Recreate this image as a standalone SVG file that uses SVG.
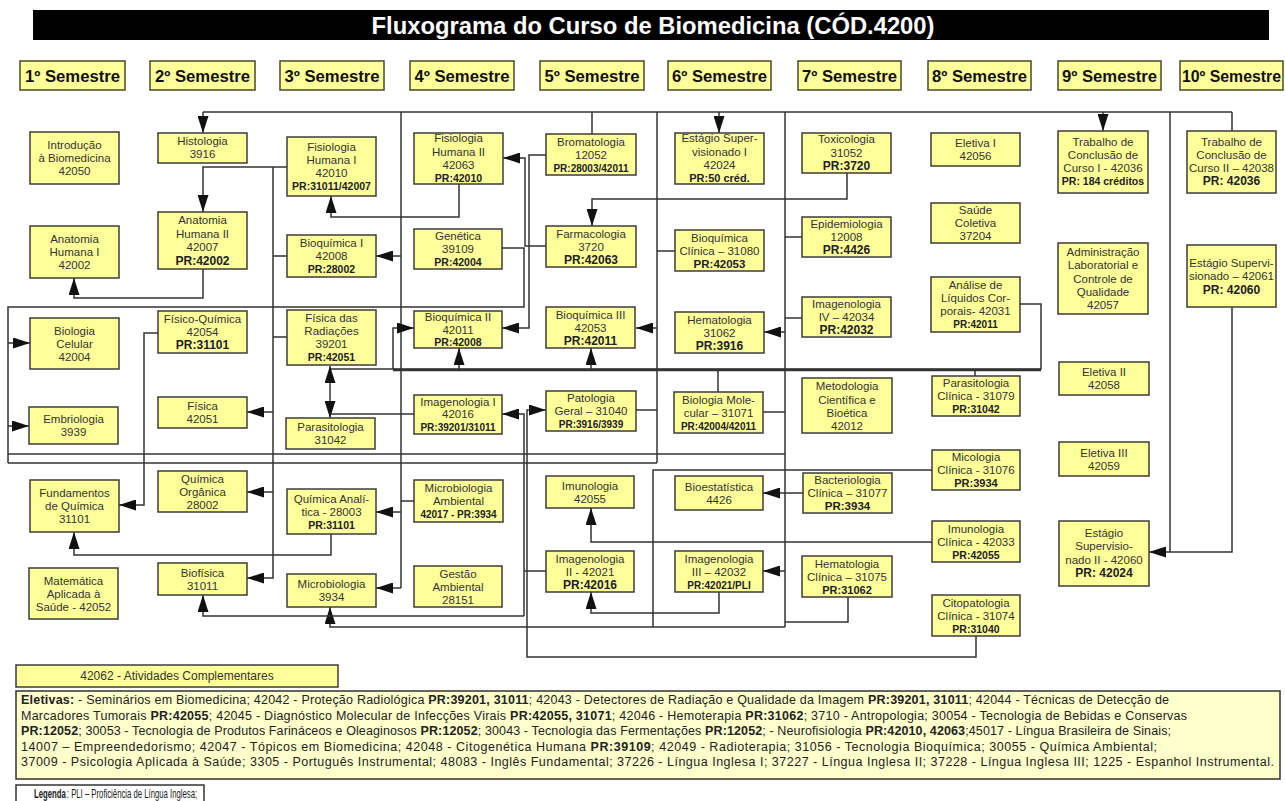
<svg xmlns="http://www.w3.org/2000/svg" width="1285" height="801" viewBox="0 0 1285 801">
<defs>
<style>
.box{fill:#ffff99;stroke:#3c3c3c;stroke-width:1.5}
.hdr{fill:#ffff99;stroke:#4a4a2a;stroke-width:1.5}
.t{font-family:"Liberation Sans",Arial,sans-serif;font-size:11.5px;fill:#333;text-anchor:middle}
.pr{font-weight:bold;font-size:12px;fill:#222}
.ps{font-weight:bold;font-size:10.5px;fill:#222}
.hd{font-family:"Liberation Sans",Arial,sans-serif;font-size:16px;font-weight:bold;fill:#111;text-anchor:middle}
.c{fill:none;stroke:#333;stroke-width:1.5}
.a{marker-end:url(#ah)}
.el{font-family:"Liberation Sans",Arial,sans-serif;font-size:12.5px;fill:#222}
.b{font-weight:bold}
</style>
<marker id="ah" markerUnits="userSpaceOnUse" markerWidth="17" markerHeight="11" refX="17" refY="5.5" orient="auto">
<path d="M0,0 L17,5.5 L0,11 z" fill="#111"/>
</marker>
</defs>
<rect width="1285" height="801" fill="#ffffff"/>

<g id="title">
<rect x="33" y="10" width="1236" height="30" fill="#000"/>
<text x="653" y="33.5" font-family="'Liberation Sans',Arial,sans-serif" font-size="23" font-weight="bold" fill="#fff" text-anchor="middle" textLength="563" lengthAdjust="spacingAndGlyphs">Fluxograma do Curso de Biomedicina (CÓD.4200)</text>
</g>

<g id="headers">
<rect class="hdr" x="20" y="61" width="105" height="29"/><text class="hd" x="72.5" y="81.5" textLength="95" lengthAdjust="spacingAndGlyphs">1º Semestre</text>
<rect class="hdr" x="150" y="61" width="105" height="29"/><text class="hd" x="202.5" y="81.5" textLength="95" lengthAdjust="spacingAndGlyphs">2º Semestre</text>
<rect class="hdr" x="280" y="61" width="104" height="29"/><text class="hd" x="332" y="81.5" textLength="95" lengthAdjust="spacingAndGlyphs">3º Semestre</text>
<rect class="hdr" x="410" y="61" width="104" height="29"/><text class="hd" x="462" y="81.5" textLength="95" lengthAdjust="spacingAndGlyphs">4º Semestre</text>
<rect class="hdr" x="540" y="61" width="104" height="29"/><text class="hd" x="592" y="81.5" textLength="95" lengthAdjust="spacingAndGlyphs">5º Semestre</text>
<rect class="hdr" x="668" y="61" width="103" height="29"/><text class="hd" x="719.5" y="81.5" textLength="95" lengthAdjust="spacingAndGlyphs">6º Semestre</text>
<rect class="hdr" x="798" y="61" width="103" height="29"/><text class="hd" x="849.5" y="81.5" textLength="95" lengthAdjust="spacingAndGlyphs">7º Semestre</text>
<rect class="hdr" x="928" y="61" width="103" height="29"/><text class="hd" x="979.5" y="81.5" textLength="95" lengthAdjust="spacingAndGlyphs">8º Semestre</text>
<rect class="hdr" x="1058" y="61" width="103" height="29"/><text class="hd" x="1109.5" y="81.5" textLength="95" lengthAdjust="spacingAndGlyphs">9º Semestre</text>
<rect class="hdr" x="1180" y="61" width="103" height="29"/><text class="hd" x="1231.5" y="81.5" textLength="99" lengthAdjust="spacingAndGlyphs">10º Semestre</text>
</g>

<g id="connectors">
<path class="c" d="M203,112 H1232"/>
<path class="c a" d="M203,112 V133"/>
<path class="c" d="M592,112 V134"/>
<path class="c a" d="M719,112 V133"/>
<path class="c a" d="M1103,112 V131"/>
<path class="c" d="M1232,112 V131"/>
<path class="c" d="M1170,112 V552"/>
<path class="c a" d="M1232,307 V552 H1149"/>
<path class="c" d="M401,112 V588"/>
<path class="c a" d="M401,256 H376"/>
<path class="c a" d="M401,512 H376"/>
<path class="c a" d="M401,588 H376"/>
<path class="c" d="M401,501 H414"/>
<path class="c" d="M657,112 V463"/>
<path class="c" d="M657,251 H675"/>
<path class="c a" d="M657,328 H636"/>
<path class="c" d="M636,410 H657"/>
<path class="c" d="M785,112 V627"/>
<path class="c" d="M785,237 H802"/>
<path class="c" d="M785,318 H802"/>
<path class="c a" d="M785,332 H764"/>
<path class="c" d="M763,412 H785"/>
<path class="c a" d="M785,493 H763"/>
<path class="c" d="M785,493 H803"/>
<path class="c a" d="M785,571 H763"/>
<path class="c" d="M848,597 V622 H785"/>
<path class="c a" d="M785,627 H330 V607"/>
<path class="c" d="M932,470 H653 V627"/>
<path class="c a" d="M932,542 H591 V508"/>
<path class="c a" d="M719,592 V613 H591 V592"/>
<path class="c" d="M546,571 H524"/>
<path class="c a" d="M524,616 V414 H502"/>
<path class="c a" d="M524,616 H203 V595"/>
<path class="c a" d="M976,636 V657 H527 V410 H546"/>
<path class="c a" d="M287,167 H203 V212"/>
<path class="c a" d="M273,167 V578 H247"/>
<path class="c" d="M273,256 H287"/>
<path class="c" d="M273,337 H287"/>
<path class="c a" d="M273,412 H247"/>
<path class="c a" d="M273,492 H247"/>
<path class="c a" d="M203,269 V298 H74 V278"/>
<path class="c" d="M502,248 H524 V307 H8 V463"/>
<path class="c a" d="M8,343 H30"/>
<path class="c a" d="M8,426 H29"/>
<path class="c" d="M8,454 H785"/>
<path class="c" d="M8,463 H657"/>
<path class="c a" d="M459,184 V217 H331 V196"/>
<path class="c a" d="M546,246 H525 V158 H503"/>
<path class="c a" d="M546,155 H529 V328 H502"/>
<path class="c a" d="M847,173 V199 H592 V226"/>
<path class="c" d="M330,369 H1041 V304 H1020"/>
<path class="c" style="stroke-width:2.5" d="M393,370 H1041"/>
<path class="c a" d="M330,391 V366"/>
<path class="c a" d="M330,391 V418"/>
<path class="c" d="M330,414 H414"/>
<path class="c a" d="M393,369 V328 H414"/>
<path class="c a" d="M459,369 V348"/>
<path class="c a" d="M591,369 V348"/>
<path class="c" d="M718,369 V392"/>
<path class="c" d="M975,369 V376"/>
<path class="c a" d="M331,534 V555 H74 V532"/>
<path class="c a" d="M158,333 H144 V505 H119"/>
</g>

<g id="n_intro"><rect class="box" x="30" y="132" width="89" height="52"/><text class="t"><tspan x="74.5" y="149">Introdução</tspan><tspan x="74.5" y="162">à Biomedicina</tspan><tspan x="74.5" y="175">42050</tspan></text></g>
<g id="n_anat1"><rect class="box" x="30" y="226" width="89" height="52"/><text class="t"><tspan x="74.5" y="243">Anatomia</tspan><tspan x="74.5" y="256">Humana I</tspan><tspan x="74.5" y="269">42002</tspan></text></g>
<g id="n_biocel"><rect class="box" x="30" y="318" width="89" height="51"/><text class="t"><tspan x="74.5" y="334.5">Biologia</tspan><tspan x="74.5" y="347.5">Celular</tspan><tspan x="74.5" y="360.5">42004</tspan></text></g>
<g id="n_embrio"><rect class="box" x="29" y="407" width="89" height="37"/><text class="t"><tspan x="73.5" y="423">Embriologia</tspan><tspan x="73.5" y="436">3939</tspan></text></g>
<g id="n_fundq"><rect class="box" x="30" y="480" width="89" height="52"/><text class="t"><tspan x="74.5" y="497">Fundamentos</tspan><tspan x="74.5" y="510">de Química</tspan><tspan x="74.5" y="523">31101</tspan></text></g>
<g id="n_mat"><rect class="box" x="29" y="568" width="89" height="51"/><text class="t"><tspan x="73.5" y="584.5">Matemática</tspan><tspan x="73.5" y="597.5">Aplicada à</tspan><tspan x="73.5" y="610.5">Saúde - 42052</tspan></text></g>

<g id="n_histo"><rect class="box" x="158" y="133" width="89" height="30"/><text class="t"><tspan x="202.5" y="145">Histologia</tspan><tspan x="202.5" y="158">3916</tspan></text></g>
<g id="n_anat2"><rect class="box" x="158" y="212" width="89" height="57"/><text class="t"><tspan x="202.5" y="224">Anatomia</tspan><tspan x="202.5" y="237.5">Humana II</tspan><tspan x="202.5" y="251">42007</tspan><tspan class="pr" x="202.5" y="265">PR:42002</tspan></text></g>
<g id="n_fisqui"><rect class="box" x="158" y="311" width="89" height="42"/><text class="t"><tspan x="202.5" y="323">Físico-Química</tspan><tspan x="202.5" y="336">42054</tspan><tspan class="pr" x="202.5" y="349">PR:31101</tspan></text></g>
<g id="n_fisica"><rect class="box" x="158" y="397" width="89" height="31"/><text class="t"><tspan x="202.5" y="410">Física</tspan><tspan x="202.5" y="423">42051</tspan></text></g>
<g id="n_qorg"><rect class="box" x="158" y="471" width="89" height="41"/><text class="t"><tspan x="202.5" y="482.5">Química</tspan><tspan x="202.5" y="495.5">Orgânica</tspan><tspan x="202.5" y="508.5">28002</tspan></text></g>
<g id="n_biofis"><rect class="box" x="158" y="563" width="89" height="32"/><text class="t"><tspan x="202.5" y="576.5">Biofísica</tspan><tspan x="202.5" y="589.5">31011</tspan></text></g>

<g id="n_fisio1"><rect class="box" x="287" y="137" width="89" height="59"/><text class="t"><tspan x="331.5" y="151">Fisiologia</tspan><tspan x="331.5" y="164">Humana I</tspan><tspan x="331.5" y="177">42010</tspan><tspan class="ps" x="331.5" y="190">PR:31011/42007</tspan></text></g>
<g id="n_bioq1"><rect class="box" x="287" y="235" width="89" height="42"/><text class="t"><tspan x="331.5" y="247">Bioquímica I</tspan><tspan x="331.5" y="260">42008</tspan><tspan class="ps" x="331.5" y="273">PR:28002</tspan></text></g>
<g id="n_fisrad"><rect class="box" x="287" y="310" width="89" height="55"/><text class="t"><tspan x="331.5" y="322">Física das</tspan><tspan x="331.5" y="335">Radiações</tspan><tspan x="331.5" y="348">39201</tspan><tspan class="ps" x="331.5" y="361">PR:42051</tspan></text></g>
<g id="n_parasit"><rect class="box" x="286" y="418" width="89" height="31"/><text class="t"><tspan x="330.5" y="431">Parasitologia</tspan><tspan x="330.5" y="444">31042</tspan></text></g>
<g id="n_qanal"><rect class="box" x="287" y="489" width="89" height="45"/><text class="t"><tspan x="331.5" y="502.5">Química Analí-</tspan><tspan x="331.5" y="515.5">tica - 28003</tspan><tspan class="ps" x="331.5" y="528.5">PR:31101</tspan></text></g>
<g id="n_micro"><rect class="box" x="287" y="574" width="89" height="33"/><text class="t"><tspan x="331.5" y="588">Microbiologia</tspan><tspan x="331.5" y="601">3934</tspan></text></g>

<g id="n_fisio2"><rect class="box" x="414" y="133" width="89" height="51"/><text class="t"><tspan x="458.5" y="142">Fisiologia</tspan><tspan x="458.5" y="155.5">Humana II</tspan><tspan x="458.5" y="168.5">42063</tspan><tspan class="ps" x="458.5" y="182">PR:42010</tspan></text></g>
<g id="n_genet"><rect class="box" x="414" y="229" width="88" height="40"/><text class="t"><tspan x="458" y="240">Genética</tspan><tspan x="458" y="253">39109</tspan><tspan class="ps" x="458" y="266">PR:42004</tspan></text></g>
<g id="n_bioq2"><rect class="box" x="414" y="311" width="88" height="37"/><text class="t"><tspan x="458" y="321">Bioquímica II</tspan><tspan x="458" y="333.5">42011</tspan><tspan class="ps" x="458" y="346">PR:42008</tspan></text></g>
<g id="n_imag1"><rect class="box" x="414" y="395" width="88" height="39"/><text class="t"><tspan x="458" y="405.5">Imagenologia I</tspan><tspan x="458" y="418">42016</tspan><tspan class="ps" style="font-size:10px" x="458" y="431">PR:39201/31011</tspan></text></g>
<g id="n_microamb"><rect class="box" x="414" y="480" width="89" height="42"/><text class="t"><tspan x="458.5" y="492">Microbiologia</tspan><tspan x="458.5" y="505">Ambiental</tspan><tspan class="ps" style="font-size:10px" x="458.5" y="518">42017 - PR:3934</tspan></text></g>
<g id="n_gestao"><rect class="box" x="414" y="566" width="88" height="41"/><text class="t"><tspan x="458" y="577.5">Gestão</tspan><tspan x="458" y="590.5">Ambiental</tspan><tspan x="458" y="603.5">28151</tspan></text></g>

<g id="n_broma"><rect class="box" x="546" y="134" width="90" height="41"/><text class="t"><tspan x="591" y="145.5">Bromatologia</tspan><tspan x="591" y="158.5">12052</tspan><tspan class="ps" style="font-size:10px" x="591" y="171.5">PR:28003/42011</tspan></text></g>
<g id="n_farma"><rect class="box" x="546" y="226" width="90" height="41"/><text class="t"><tspan x="591" y="237.5">Farmacologia</tspan><tspan x="591" y="250.5">3720</tspan><tspan class="pr" x="591" y="263.5">PR:42063</tspan></text></g>
<g id="n_bioq3"><rect class="box" x="546" y="307" width="89" height="41"/><text class="t"><tspan x="590.5" y="318.5">Bioquímica III</tspan><tspan x="590.5" y="331.5">42053</tspan><tspan class="pr" x="590.5" y="344.5">PR:42011</tspan></text></g>
<g id="n_pato"><rect class="box" x="546" y="391" width="90" height="40"/><text class="t"><tspan x="591" y="402">Patologia</tspan><tspan x="591" y="415">Geral – 31040</tspan><tspan class="ps" style="font-size:10px" x="591" y="428">PR:3916/3939</tspan></text></g>
<g id="n_imuno"><rect class="box" x="546" y="476" width="88" height="32"/><text class="t"><tspan x="590" y="489.5">Imunologia</tspan><tspan x="590" y="502.5">42055</tspan></text></g>
<g id="n_imag2"><rect class="box" x="546" y="551" width="88" height="41"/><text class="t"><tspan x="590" y="562.5">Imagenologia</tspan><tspan x="590" y="575.5">II - 42021</tspan><tspan class="pr" x="590" y="588.5">PR:42016</tspan></text></g>

<g id="n_est1"><rect class="box" x="675" y="133" width="89" height="51"/><text class="t"><tspan x="719.5" y="142">Estágio Super-</tspan><tspan x="719.5" y="155.5">visionado I</tspan><tspan x="719.5" y="168.5">42024</tspan><tspan class="ps" style="font-size:11px" x="719.5" y="182">PR:50 créd.</tspan></text></g>
<g id="n_bioqcli"><rect class="box" x="675" y="230" width="89" height="41"/><text class="t"><tspan x="719.5" y="241.5">Bioquímica</tspan><tspan x="719.5" y="254.5">Clínica – 31080</tspan><tspan class="pr" style="font-size:11.5px" x="719.5" y="267.5">PR:42053</tspan></text></g>
<g id="n_hemato"><rect class="box" x="675" y="312" width="89" height="41"/><text class="t"><tspan x="719.5" y="323.5">Hematologia</tspan><tspan x="719.5" y="336.5">31062</tspan><tspan class="pr" x="719.5" y="349.5">PR:3916</tspan></text></g>
<g id="n_biomol"><rect class="box" x="674" y="392" width="89" height="41"/><text class="t"><tspan x="718.5" y="403.5">Biologia Mole-</tspan><tspan x="718.5" y="416.5">cular – 31071</tspan><tspan class="ps" style="font-size:10px" x="718.5" y="429.5">PR:42004/42011</tspan></text></g>
<g id="n_bioest"><rect class="box" x="675" y="476" width="88" height="34"/><text class="t"><tspan x="719" y="490.5">Bioestatística</tspan><tspan x="719" y="503.5">4426</tspan></text></g>
<g id="n_imag3"><rect class="box" x="675" y="551" width="88" height="41"/><text class="t"><tspan x="719" y="562.5">Imagenologia</tspan><tspan x="719" y="575.5">III – 42032</tspan><tspan class="ps" style="font-size:10px" x="719" y="588.5">PR:42021/PLI</tspan></text></g>

<g id="n_toxi"><rect class="box" x="802" y="133" width="89" height="40"/><text class="t"><tspan x="846.5" y="143">Toxicologia</tspan><tspan x="846.5" y="156.5">31052</tspan><tspan class="pr" x="846.5" y="170">PR:3720</tspan></text></g>
<g id="n_epid"><rect class="box" x="802" y="217" width="89" height="40"/><text class="t"><tspan x="846.5" y="228">Epidemiologia</tspan><tspan x="846.5" y="241">12008</tspan><tspan class="pr" x="846.5" y="254">PR:4426</tspan></text></g>
<g id="n_imag4"><rect class="box" x="802" y="297" width="89" height="40"/><text class="t"><tspan x="846.5" y="308">Imagenologia</tspan><tspan x="846.5" y="321">IV – 42034</tspan><tspan class="pr" x="846.5" y="334">PR:42032</tspan></text></g>
<g id="n_metod"><rect class="box" x="802" y="378" width="90" height="55"/><text class="t"><tspan x="847" y="390">Metodologia</tspan><tspan x="847" y="403.5">Científica e</tspan><tspan x="847" y="417">Bioética</tspan><tspan x="847" y="430">42012</tspan></text></g>
<g id="n_bacter"><rect class="box" x="803" y="473" width="89" height="40"/><text class="t"><tspan x="847.5" y="484">Bacteriologia</tspan><tspan x="847.5" y="497">Clínica – 31077</tspan><tspan class="pr" style="font-size:11.5px" x="847.5" y="510">PR:3934</tspan></text></g>
<g id="n_hemcli"><rect class="box" x="802" y="556" width="90" height="41"/><text class="t"><tspan x="847" y="567.5">Hematologia</tspan><tspan x="847" y="580.5">Clínica – 31075</tspan><tspan class="pr" style="font-size:11px" x="847" y="593.5">PR:31062</tspan></text></g>

<g id="n_elet1"><rect class="box" x="931" y="133" width="89" height="33"/><text class="t"><tspan x="975.5" y="147">Eletiva I</tspan><tspan x="975.5" y="160">42056</tspan></text></g>
<g id="n_saude"><rect class="box" x="931" y="203" width="89" height="40"/><text class="t"><tspan x="975.5" y="214">Saúde</tspan><tspan x="975.5" y="227">Coletiva</tspan><tspan x="975.5" y="240">37204</tspan></text></g>
<g id="n_analise"><rect class="box" x="931" y="277" width="89" height="55"/><text class="t"><tspan x="975.5" y="289">Análise de</tspan><tspan x="975.5" y="302">Líquidos Cor-</tspan><tspan x="975.5" y="315">porais- 42031</tspan><tspan class="ps" style="font-size:10px" x="975.5" y="328">PR:42011</tspan></text></g>
<g id="n_parcli"><rect class="box" x="932" y="376" width="88" height="40"/><text class="t"><tspan x="976" y="387">Parasitologia</tspan><tspan x="976" y="400">Clínica - 31079</tspan><tspan class="ps" x="976" y="413">PR:31042</tspan></text></g>
<g id="n_micocli"><rect class="box" x="932" y="450" width="88" height="40"/><text class="t"><tspan x="976" y="461">Micologia</tspan><tspan x="976" y="474">Clínica - 31076</tspan><tspan class="pr" style="font-size:11px" x="976" y="487">PR:3934</tspan></text></g>
<g id="n_imucli"><rect class="box" x="932" y="521" width="88" height="41"/><text class="t"><tspan x="976" y="532.5">Imunologia</tspan><tspan x="976" y="545.5">Clínica - 42033</tspan><tspan class="ps" x="976" y="558.5">PR:42055</tspan></text></g>
<g id="n_citocli"><rect class="box" x="932" y="595" width="88" height="41"/><text class="t"><tspan x="976" y="606.5">Citopatologia</tspan><tspan x="976" y="619.5">Clínica - 31074</tspan><tspan class="ps" x="976" y="632.5">PR:31040</tspan></text></g>

<g id="n_tcc1"><rect class="box" x="1058" y="131" width="90" height="62"/><text class="t"><tspan x="1103" y="145.5">Trabalho de</tspan><tspan x="1103" y="158.8">Conclusão de</tspan><tspan x="1103" y="172.1">Curso I - 42036</tspan><tspan class="ps" x="1103" y="185.4">PR: 184 créditos</tspan></text></g>
<g id="n_admin"><rect class="box" x="1058" y="243" width="90" height="71"/><text class="t"><tspan x="1103" y="255.5">Administração</tspan><tspan x="1103" y="269">Laboratorial e</tspan><tspan x="1103" y="282.5">Controle de</tspan><tspan x="1103" y="296">Qualidade</tspan><tspan x="1103" y="309">42057</tspan></text></g>
<g id="n_elet2"><rect class="box" x="1059" y="362" width="90" height="33"/><text class="t"><tspan x="1104" y="376">Eletiva II</tspan><tspan x="1104" y="389">42058</tspan></text></g>
<g id="n_elet3"><rect class="box" x="1059" y="442" width="90" height="34"/><text class="t"><tspan x="1104" y="456.5">Eletiva III</tspan><tspan x="1104" y="469.5">42059</tspan></text></g>
<g id="n_est2"><rect class="box" x="1059" y="521" width="90" height="65"/><text class="t"><tspan x="1104" y="536.5">Estágio</tspan><tspan x="1104" y="550">Supervisio-</tspan><tspan x="1104" y="563.5">nado II - 42060</tspan><tspan class="pr" x="1104" y="577">PR: 42024</tspan></text></g>

<g id="n_tcc2"><rect class="box" x="1187" y="131" width="89" height="62"/><text class="t"><tspan x="1231.5" y="145.5">Trabalho de</tspan><tspan x="1231.5" y="158.8">Conclusão de</tspan><tspan x="1231.5" y="172.1">Curso II – 42038</tspan><tspan class="pr" x="1231.5" y="185.4">PR: 42036</tspan></text></g>
<g id="n_est61"><rect class="box" x="1187" y="245" width="89" height="62"/><text class="t"><tspan x="1231.5" y="266.7">Estágio Supervi-</tspan><tspan x="1231.5" y="279.7">sionado – 42061</tspan><tspan class="pr" x="1231.5" y="294">PR: 42060</tspan></text></g>

<g id="n_ativ"><rect class="box" x="16" y="665" width="322" height="22"/><text class="t" style="font-size:12px" x="177" y="680">42062 - Atividades Complementares</text></g>

<g id="eletivas">
<rect x="16" y="691" width="1264" height="88" fill="#ffffcc" stroke="#333" stroke-width="1.5"/>
<text class="el" x="21" y="703.5" textLength="1148" lengthAdjust="spacing"><tspan class="b">Eletivas:</tspan> - Seminários em Biomedicina; 42042 - Proteção Radiológica <tspan class="b">PR:39201, 31011</tspan>; 42043 - Detectores de Radiação e Qualidade da Imagem <tspan class="b">PR:39201, 31011</tspan>; 42044 - Técnicas de Detecção de</text>
<text class="el" x="21" y="719.5" textLength="1166" lengthAdjust="spacing">Marcadores Tumorais <tspan class="b">PR:42055</tspan>; 42045 - Diagnóstico Molecular de Infecções Virais <tspan class="b">PR:42055, 31071</tspan>; 42046 - Hemoterapia <tspan class="b">PR:31062</tspan>;  3710 - Antropologia; 30054 - Tecnologia de Bebidas e Conservas</text>
<text class="el" x="21" y="735" textLength="1150" lengthAdjust="spacing"><tspan class="b">PR:12052</tspan>; 30053 - Tecnologia de Produtos Farináceos e Oleaginosos <tspan class="b">PR:12052</tspan>; 30043 - Tecnologia das Fermentações <tspan class="b">PR:12052</tspan>; - Neurofisiologia <tspan class="b">PR:42010, 42063</tspan>;45017 - Língua Brasileira de Sinais;</text>
<text class="el" x="21" y="750.5" textLength="1136" lengthAdjust="spacing">14007 – Empreendedorismo; 42047 - Tópicos em Biomedicina; 42048 - Citogenética Humana <tspan class="b">PR:39109</tspan>; 42049 - Radioterapia; 31056 - Tecnologia Bioquímica; 30055 - Química Ambiental;</text>
<text class="el" x="21" y="765.5" textLength="1253" lengthAdjust="spacing">37009 - Psicologia Aplicada à Saúde; 3305 - Português Instrumental; 48083 - Inglês Fundamental; 37226 - Língua Inglesa I; 37227 - Língua Inglesa II; 37228 - Língua Inglesa III; 1225 - Espanhol Instrumental.</text>
</g>

<g id="legenda">
<rect x="16" y="785" width="188" height="22" fill="#fff" stroke="#333" stroke-width="1.5"/>
<g transform="translate(34,798) scale(0.62,1)">
<text class="el b" style="font-size:12.5px" x="0" y="0">Legenda</text>
<text class="el" style="font-size:12.5px" x="53" y="0">: PLI – Proficiência de Língua Inglesa;</text>
</g>
</g>
</svg>
